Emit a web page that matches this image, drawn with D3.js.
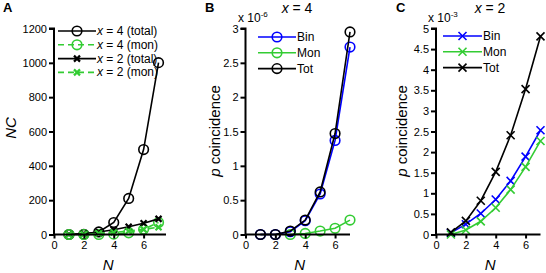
<!DOCTYPE html>
<html>
    <head>
        <script src="https://d3js.org/d3.v7.min.js"></script>
        <style>
            body { margin: 0; background: #fff; }
            text { font-family: Arial, 'Liberation Sans', sans-serif; }
        </style>
    </head>
    <body>
        <script type='text/javascript'>
            var w = 546;
            var h = 273;

            // N values
            var nVals = [1, 2, 3, 4, 5, 6, 7];

            // Panel A: number of coincidences
            var ncX4Total = [0, 1, 15, 70, 210, 495, 1001];
            var ncX4Mon = [0, 0, 0, 2, 10, 30, 70];
            var ncX2Total = [1, 6, 15, 28, 45, 66, 91];
            var ncX2Mon = [0, 2, 6, 12, 20, 30, 42];
            var ticksA = [0, 200, 400, 600, 800, 1000, 1200];

            // Panel B: x = 4, units of 1e-6
            var pB_Bin = [0, 0, 0.04, 0.20, 0.59, 1.37, 2.73];
            var pB_MonN = [3, 4, 5, 6, 7];
            var pB_Mon = [0, 0.015, 0.05, 0.09, 0.21];
            var pB_Tot = [0, 0, 0.05, 0.21, 0.62, 1.47, 2.95];
            var ticksB = [0, 0.5, 1, 1.5, 2, 2.5, 3];

            // Panel C: x = 2, units of 1e-3
            var pC_Bin = [0.04, 0.25, 0.51, 0.85, 1.30, 1.89, 2.53];
            var pC_Mon = [0, 0.11, 0.32, 0.65, 1.09, 1.64, 2.27];
            var pC_Tot = [0.05, 0.33, 0.82, 1.52, 2.41, 3.53, 4.81];
            var ticksC = [0, 0.5, 1, 1.5, 2, 2.5, 3, 3.5, 4, 4.5, 5];

            var xTicks = [0, 2, 4, 6];

            var green = '#33cc33';
            var blue = '#0000ff';

            var svg = d3.select('body')
                        .append('svg')
                        .attr('width', w)
                        .attr('height', h);

            var yBottom = 234.5, yTop = 28.5;

            function makePanel(opt) {
                var g = svg.append('g');
                var x = d3.scaleLinear().domain([0, opt.xMax]).range([opt.x0, opt.x1]);
                var y = d3.scaleLinear().domain([0, opt.yMax]).range([yBottom, yTop]);

                // series
                opt.series.forEach(function(s) {
                    var pts = s.n.map(function(n, i) { return [n, s.v[i]]; });
                    var line = d3.line()
                                 .x(function(d) { return x(d[0]); })
                                 .y(function(d) { return y(d[1]); });
                    g.append('path')
                        .attr('d', line(pts))
                        .attr('fill', 'none')
                        .attr('stroke', s.color)
                        .attr('stroke-width', 1.6)
                        .attr('stroke-dasharray', s.dash || null);
                    pts.forEach(function(d) {
                        drawMarker(g, s, x(d[0]), y(d[1]));
                    });
                });

                // axes
                var yAxis = d3.axisLeft(y).tickValues(opt.yTicks).tickSize(5).tickPadding(2)
                              .tickFormat(d3.format('~g'));
                var xAxis = d3.axisBottom(x).tickValues(xTicks).tickSize(4).tickPadding(3)
                              .tickFormat(d3.format('d'));

                var ya = g.append('g')
                    .attr('transform', 'translate(' + opt.x0 + ',0)')
                    .call(yAxis);
                var xa = g.append('g')
                    .attr('transform', 'translate(0,' + yBottom + ')')
                    .call(xAxis);
                [ya, xa].forEach(function(a) {
                    a.select('.domain').attr('stroke-width', 2).attr('stroke', '#000');
                    a.selectAll('.tick line').attr('stroke-width', 2).attr('stroke', '#000');
                    a.selectAll('text').attr('font-size', 11).attr('fill', '#000')
                        .attr('font-family', 'Arial, Liberation Sans, sans-serif');
                });
                ya.select('.domain').attr('d', 'M0,' + yBottom + 'V' + yTop + 'H-5');
                xa.select('.domain').attr('d', 'M' + opt.x0 + ',0H' + opt.x1);

                // x label
                g.append('text')
                    .attr('x', (opt.x0 + x(7)) / 2 + 2)
                    .attr('y', 270)
                    .attr('text-anchor', 'middle')
                    .attr('font-size', 15)
                    .attr('font-style', 'italic')
                    .text('N');

                // panel letter
                g.append('text')
                    .attr('x', opt.letterX)
                    .attr('y', 12)
                    .attr('font-size', 13)
                    .attr('font-weight', 'bold')
                    .text(opt.letter);

                // legend
                opt.series.forEach(function(s, i) {
                    if (!s.label) return;
                    var ly = opt.leg.y + i * opt.leg.dy;
                    g.append('line')
                        .attr('x1', opt.leg.x).attr('x2', opt.leg.x + opt.leg.len)
                        .attr('y1', ly).attr('y2', ly)
                        .attr('stroke', s.color)
                        .attr('stroke-width', 1.6)
                        .attr('stroke-dasharray', s.dash || null);
                    drawMarker(g, s, opt.leg.x + opt.leg.len / 2, ly);
                    var t = g.append('text')
                        .attr('x', opt.leg.x + opt.leg.len + 1)
                        .attr('y', ly + 4)
                        .attr('font-size', 12);
                    if (s.xval) {
                        t.append('tspan').attr('font-style', 'italic').text('x');
                        t.append('tspan').text(' = ' + s.xval + ' (' + s.label + ')');
                    } else {
                        t.text(s.label);
                    }
                });

                return g;
            }

            function drawMarker(g, s, cx, cy) {
                if (s.marker === 'o') {
                    g.append('circle')
                        .attr('cx', cx).attr('cy', cy).attr('r', 4.8)
                        .attr('fill', 'none')
                        .attr('stroke', s.color)
                        .attr('stroke-width', 1.6);
                } else {
                    var r = s.msize || 4;
                    g.append('path')
                        .attr('d', 'M' + (cx - r) + ',' + (cy - r) + 'L' + (cx + r) + ',' + (cy + r) +
                                   'M' + (cx - r) + ',' + (cy + r) + 'L' + (cx + r) + ',' + (cy - r))
                        .attr('stroke', s.color)
                        .attr('stroke-width', s.mwidth || 1.6);
                }
            }

            // Panel A
            var gA = makePanel({
                x0: 54, x1: 166, xMax: 7.5, yMax: 1200, yTicks: ticksA,
                letter: 'A', letterX: 3,
                leg: { x: 58, len: 38, y: 31, dy: 13.8 },
                series: [
                    { n: nVals, v: ncX4Total, color: '#000', marker: 'o', label: 'total', xval: 4 },
                    { n: nVals, v: ncX4Mon, color: green, marker: 'o', dash: '6,4', label: 'mon', xval: 4 },
                    { n: nVals, v: ncX2Total, color: '#000', marker: 'x', msize: 3, mwidth: 2.2, label: 'total', xval: 2 },
                    { n: nVals, v: ncX2Mon, color: green, marker: 'x', msize: 3, mwidth: 2.2, dash: '6,4', label: 'mon', xval: 2 }
                ]
            });
            gA.append('text')
                .attr('transform', 'translate(11,128) rotate(-90)')
                .attr('text-anchor', 'middle')
                .attr('dy', '0.35em')
                .attr('font-size', 15)
                .attr('font-style', 'italic')
                .text('NC');

            // Panel B
            var gB = makePanel({
                x0: 245.5, x1: 350, xMax: 7, yMax: 3, yTicks: ticksB,
                letter: 'B', letterX: 205,
                leg: { x: 258, len: 38, y: 37, dy: 15.8 },
                series: [
                    { n: nVals, v: pB_Bin, color: blue, marker: 'o', label: 'Bin' },
                    { n: pB_MonN, v: pB_Mon, color: green, marker: 'o', label: 'Mon' },
                    { n: nVals, v: pB_Tot, color: '#000', marker: 'o', label: 'Tot' }
                ]
            });

            // Panel C
            var gC = makePanel({
                x0: 436, x1: 540.5, xMax: 7, yMax: 5, yTicks: ticksC,
                letter: 'C', letterX: 396,
                leg: { x: 443, len: 39, y: 36, dy: 15.8 },
                series: [
                    { n: nVals, v: pC_Bin, color: blue, marker: 'x', label: 'Bin' },
                    { n: nVals, v: pC_Mon, color: green, marker: 'x', label: 'Mon' },
                    { n: nVals, v: pC_Tot, color: '#000', marker: 'x', label: 'Tot' }
                ]
            });

            // y labels, titles and exponent notes for B and C
            [[gB, 215, 297, '4', 238, '-6'], [gC, 402, 490, '2', 428, '-3']].forEach(function(p) {
                var t = p[0].append('text')
                    .attr('transform', 'translate(' + p[1] + ',131) rotate(-90)')
                    .attr('text-anchor', 'middle')
                    .attr('dy', '0.35em')
                    .attr('font-size', 15);
                t.append('tspan').attr('font-style', 'italic').text('p');
                t.append('tspan').text(' coincidence');

                var ti = p[0].append('text')
                    .attr('x', p[2]).attr('y', 13)
                    .attr('text-anchor', 'middle')
                    .attr('font-size', 14);
                ti.append('tspan').attr('font-style', 'italic').text('x');
                ti.append('tspan').text(' = ' + p[3]);

                var ex = p[0].append('text')
                    .attr('x', p[4]).attr('y', 22)
                    .attr('font-size', 12);
                ex.append('tspan').text('x 10');
                ex.append('tspan').attr('font-size', 8).attr('dy', -5).text(p[5]);
            });
        </script>
    </body>
</html>
